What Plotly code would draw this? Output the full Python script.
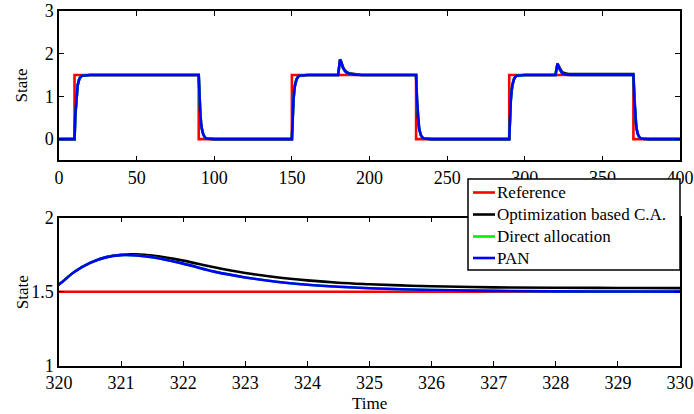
import plotly.graph_objects as go

# ---------------- data ----------------
# reference command (piecewise constant)
ref_time = [0, 10, 90, 150, 230, 290, 370, 400]
ref_value = [0, 1.5, 0, 1.5, 0, 1.5, 0, 0]

# sampled time instants of the responses
time = [
    0, 10, 10.5, 11, 11.5, 12, 13, 14, 15, 17, 20,
    90, 90.5, 91, 91.5, 92, 93, 94, 95, 97, 100,
    150, 150.5, 151, 151.5, 152, 153, 154, 155, 157, 160,
    179.8, 180.2, 180.6, 181, 181.5, 182, 183, 184, 185, 187, 190, 195,
    230, 230.5, 231, 231.5, 232, 233, 234, 235, 237, 240,
    290, 290.5, 291, 291.5, 292, 293, 294, 295, 297, 300,
    319.8, 320, 320.25, 320.5, 320.75, 321, 321.25, 321.5, 322, 322.5, 323, 323.5,
    324, 324.5, 325, 325.5, 326, 327, 328, 329, 330, 340,
    370, 370.5, 371, 371.5, 372, 373, 374, 375, 377, 380, 400,
]

optim_ca = [
    0, 0, 0.55, 0.9, 1.12, 1.26, 1.4, 1.46, 1.485, 1.497, 1.5,
    1.5, 0.95, 0.6, 0.38, 0.24, 0.1, 0.04, 0.015, 0.003, 0,
    0, 0.55, 0.9, 1.12, 1.26, 1.4, 1.46, 1.485, 1.497, 1.5,
    1.5, 1.62, 1.78, 1.86, 1.84, 1.77, 1.68, 1.62, 1.58, 1.54, 1.52, 1.5,
    1.5, 0.95, 0.6, 0.38, 0.24, 0.1, 0.04, 0.015, 0.003, 0,
    0, 0.55, 0.9, 1.12, 1.26, 1.4, 1.46, 1.485, 1.497, 1.5,
    1.5, 1.55, 1.635, 1.695, 1.733, 1.75, 1.752, 1.744, 1.71, 1.665, 1.627, 1.598,
    1.577, 1.561, 1.551, 1.543, 1.537, 1.53, 1.527, 1.526, 1.525, 1.525,
    1.525, 0.97, 0.61, 0.39, 0.245, 0.1, 0.04, 0.015, 0.003, 0, 0,
]

direct_alloc = [
    0, 0, 0.55, 0.9, 1.12, 1.26, 1.4, 1.46, 1.485, 1.497, 1.5,
    1.5, 0.95, 0.6, 0.38, 0.24, 0.1, 0.04, 0.015, 0.003, 0,
    0, 0.55, 0.9, 1.12, 1.26, 1.4, 1.46, 1.485, 1.497, 1.5,
    1.5, 1.62, 1.78, 1.86, 1.83, 1.76, 1.66, 1.6, 1.56, 1.53, 1.51, 1.5,
    1.5, 0.95, 0.6, 0.38, 0.24, 0.1, 0.04, 0.015, 0.003, 0,
    0, 0.55, 0.9, 1.12, 1.26, 1.4, 1.46, 1.485, 1.497, 1.5,
    1.5, 1.55, 1.635, 1.695, 1.732, 1.747, 1.745, 1.733, 1.69, 1.636, 1.597, 1.568,
    1.548, 1.534, 1.524, 1.517, 1.512, 1.506, 1.503, 1.502, 1.501, 1.5,
    1.5, 0.95, 0.6, 0.38, 0.24, 0.1, 0.04, 0.015, 0.003, 0, 0,
]

pan = [
    0, 0, 0.55, 0.9, 1.12, 1.26, 1.4, 1.46, 1.485, 1.497, 1.5,
    1.5, 0.95, 0.6, 0.38, 0.24, 0.1, 0.04, 0.015, 0.003, 0,
    0, 0.55, 0.9, 1.12, 1.26, 1.4, 1.46, 1.485, 1.497, 1.5,
    1.5, 1.62, 1.78, 1.86, 1.83, 1.76, 1.66, 1.6, 1.56, 1.53, 1.51, 1.5,
    1.5, 0.95, 0.6, 0.38, 0.24, 0.1, 0.04, 0.015, 0.003, 0,
    0, 0.55, 0.9, 1.12, 1.26, 1.4, 1.46, 1.485, 1.497, 1.5,
    1.5, 1.55, 1.635, 1.695, 1.732, 1.747, 1.745, 1.733, 1.69, 1.636, 1.597, 1.568,
    1.548, 1.534, 1.524, 1.517, 1.512, 1.506, 1.503, 1.502, 1.501, 1.5,
    1.5, 0.95, 0.6, 0.38, 0.24, 0.1, 0.04, 0.015, 0.003, 0, 0,
]

names = ["Reference", "Optimization based C.A.", "Direct allocation", "PAN"]
colors = ["#ff0000", "#000000", "#00ee00", "#0000ff"]

top_x_ticks = [0, 50, 100, 150, 200, 250, 300, 350, 400]
top_y_ticks = [0, 1, 2, 3]
bot_x_ticks = [320, 321, 322, 323, 324, 325, 326, 327, 328, 329, 330]
bot_y_ticks = [1, 1.5, 2]

# ---------------- figure ----------------
FONT = "Liberation Serif, DejaVu Serif, serif"
W, H = 694, 414
ML, MR, MT, MB = 59, 14, 11, 48
PW, PH = W - ML - MR, H - MT - MB


def px_x(p):
    return (p - ML) / PW


def px_y(p):
    return (H - MB - p) / PH


fig = go.Figure()

series = [
    (ref_time, ref_value, "hv"),
    (time, optim_ca, "linear"),
    (time, direct_alloc, "linear"),
    (time, pan, "linear"),
]

for (x, y, shape), name, col in zip(series, names, colors):
    fig.add_trace(go.Scatter(x=x, y=y, mode="lines", name=name,
                             line=dict(color=col, width=2.6, shape=shape),
                             xaxis="x", yaxis="y", showlegend=False))

for (x, y, shape), name, col in zip(series, names, colors):
    fig.add_trace(go.Scatter(x=x, y=y, mode="lines", name=name,
                             line=dict(color=col, width=2.6,
                                       shape="hv" if shape == "hv" else "spline"),
                             xaxis="x2", yaxis="y2", showlegend=False))

axis_style = dict(showline=True, linecolor="#000000", linewidth=1.5, mirror="ticks",
                  ticks="inside", ticklen=5, tickwidth=1.2, tickcolor="#000000",
                  showgrid=False, zeroline=False, automargin=False,
                  tickfont=dict(family=FONT, size=18, color="#000000"))

# legend box drawn as shapes + text (placed in pixel terms of the reference)
shapes = [dict(type="rect", xref="paper", yref="paper", layer="above",
               x0=px_x(468), x1=px_x(680), y0=px_y(270), y1=px_y(179),
               fillcolor="white", line=dict(color="#000000", width=1.5))]
annotations = []
rows = [192.5, 214.5, 236.5, 258]
for name, col, ry in zip(names, colors, rows):
    shapes.append(dict(type="line", xref="paper", yref="paper", layer="above",
                       x0=px_x(473), x1=px_x(495), y0=px_y(ry), y1=px_y(ry),
                       line=dict(color=col, width=2.6)))
    annotations.append(dict(text=name, x=px_x(496), y=px_y(ry), xref="paper", yref="paper",
                            showarrow=False, xanchor="left", yanchor="middle", borderpad=0,
                            font=dict(family=FONT, size=17, color="#000000")))

annotations += [
    dict(text="State", x=px_x(22), y=0.79, xref="paper", yref="paper",
         textangle=-90, showarrow=False, xanchor="center", yanchor="middle",
         font=dict(family=FONT, size=17, color="#000000")),
    dict(text="State", x=px_x(22), y=0.2076, xref="paper", yref="paper",
         textangle=-90, showarrow=False, xanchor="center", yanchor="middle",
         font=dict(family=FONT, size=17, color="#000000")),
    dict(text="Time", x=0.5, y=px_y(403), xref="paper", yref="paper",
         showarrow=False, xanchor="center", yanchor="middle",
         font=dict(family=FONT, size=17, color="#000000")),
]

fig.update_layout(
    width=W, height=H,
    margin=dict(l=ML, r=MR, t=MT, b=MB),
    paper_bgcolor="white", plot_bgcolor="white",
    font=dict(family=FONT, size=18, color="#000000"),
    showlegend=False,
    xaxis=dict(domain=[0, 1], anchor="y", range=[0, 400], tickvals=top_x_ticks, **axis_style),
    yaxis=dict(domain=[0.579, 1], anchor="x", range=[-0.5, 3], tickvals=top_y_ticks, **axis_style),
    xaxis2=dict(domain=[0, 1], anchor="y2", range=[320, 330], tickvals=bot_x_ticks, **axis_style),
    yaxis2=dict(domain=[0, 0.418], anchor="x2", range=[1, 2], tickvals=bot_y_ticks,
                ticktext=["1", "1.5", "2"], **axis_style),
    shapes=shapes,
    annotations=annotations,
)

fig.write_html("out.html", config={"displayModeBar": False},
               post_script="document.body.style.margin='0px';")
